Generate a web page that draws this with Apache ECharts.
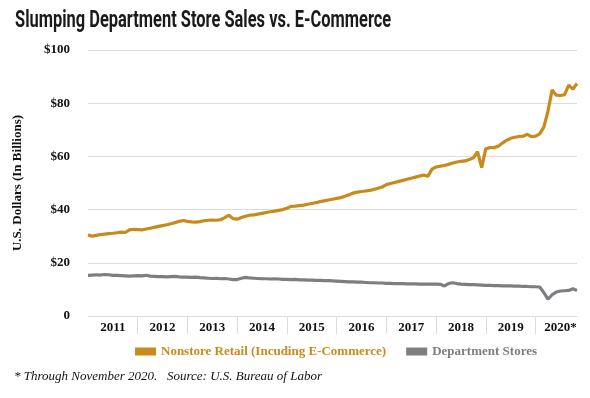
<!DOCTYPE html>
<html>
<head>
<meta charset="utf-8">
<script src="https://cdn.jsdelivr.net/npm/echarts@6/dist/echarts.min.js"></script>
<style>
  html, body { margin: 0; padding: 0; background: #fff; }
  #chart { width: 590px; height: 398px; }
</style>
</head>
<body>
<div id="chart"></div>
<script>
// years on the x axis (monthly data Jan 2011 - Nov 2020)
const years = ['2011', '2012', '2013', '2014', '2015', '2016', '2017', '2018', '2019', '2020']
const yearLabels = ['2011', '2012', '2013', '2014', '2015', '2016', '2017', '2018', '2019', '2020*']
const monthsLastYear = 11

// Nonstore retail, $ billions, one row per year
const nonstore = [
  30.5, 30.0, 30.3, 30.6, 30.8, 31.0, 31.1, 31.3, 31.5, 31.4, 32.4, 32.6,
  32.5, 32.4, 32.7, 33.0, 33.3, 33.7, 34.0, 34.3, 34.7, 35.1, 35.6, 35.9,
  35.6, 35.4, 35.3, 35.5, 35.8, 36.0, 36.1, 36.0, 36.2, 37.0, 37.9, 36.6,
  36.4, 37.0, 37.5, 37.9, 38.0, 38.3, 38.6, 38.9, 39.2, 39.4, 39.7, 40.0,
  40.5, 41.2, 41.3, 41.5, 41.7, 42.0, 42.3, 42.6, 43.0, 43.3, 43.6, 43.9,
  44.2, 44.5, 45.0, 45.6, 46.2, 46.6, 46.8, 47.0, 47.2, 47.6, 48.0, 48.5,
  49.4, 49.8, 50.2, 50.6, 51.0, 51.4, 51.8, 52.2, 52.6, 53.0, 52.5, 55.2,
  56.0, 56.3, 56.6, 57.0, 57.5, 57.9, 58.1, 58.3, 58.8, 59.5, 61.8, 55.8,
  62.9, 63.3, 63.3, 63.8, 65.0, 66.0, 66.8, 67.2, 67.5, 67.6, 68.3, 67.4,
  67.6, 68.5, 71.0, 77.0, 85.0, 83.0, 82.9, 83.2, 86.8, 85.3, 87.4
]

// Department stores, $ billions
const deptStores = [
  15.3, 15.4, 15.5, 15.4, 15.6, 15.5, 15.3, 15.3, 15.2, 15.1, 15.0, 15.1,
  15.2, 15.1, 15.3, 15.0, 14.9, 14.8, 14.8, 14.7, 14.8, 14.9, 14.7, 14.6,
  14.6, 14.5, 14.6, 14.4, 14.3, 14.2, 14.1, 14.2, 14.0, 14.1, 13.9, 13.7,
  13.7, 14.2, 14.5, 14.3, 14.2, 14.1, 14.0, 14.0, 13.9, 14.0, 13.9, 13.8,
  13.8, 13.7, 13.8, 13.6, 13.6, 13.5, 13.5, 13.4, 13.4, 13.3, 13.3, 13.2,
  13.1, 13.0, 12.9, 12.8, 12.8, 12.7, 12.7, 12.6, 12.5, 12.5, 12.4, 12.4,
  12.3, 12.3, 12.2, 12.2, 12.2, 12.1, 12.1, 12.1, 12.0, 12.0, 12.0, 12.0,
  12.0, 11.9, 11.3, 12.2, 12.5, 12.2, 12.0, 11.9, 11.8, 11.8, 11.7, 11.6,
  11.5, 11.5, 11.4, 11.4, 11.3, 11.3, 11.3, 11.2, 11.2, 11.1, 11.1, 11.0,
  11.0, 10.9, 8.8, 6.3, 8.0, 9.0, 9.4, 9.5, 9.6, 10.2, 9.6
]

const yTicks = [0, 20, 40, 60, 80, 100]

const months = []
years.forEach((y, i) => {
  const n = i === years.length - 1 ? monthsLastYear : 12
  for (let m = 1; m <= n; m++) months.push(y + '-' + m)
})

const orange = '#c98a1c'
const grey = '#7e7e82'
const serif = '"Liberation Serif", "DejaVu Serif", serif'

const chart = echarts.init(document.getElementById('chart'))
chart.setOption({
  animation: false,
  backgroundColor: '#fff',
  grid: { left: 88, right: 13, top: 50, bottom: 82 },
  legend: {
    left: 130,
    top: 340,
    icon: 'rect',
    itemWidth: 21,
    itemHeight: 8,
    itemGap: 20,
    textStyle: { fontFamily: serif, fontWeight: 'bold', fontSize: 13 },
    data: [
      { name: 'Nonstore Retail (Incuding E-Commerce)', textStyle: { color: orange } },
      { name: 'Department Stores', textStyle: { color: grey } }
    ]
  },
  xAxis: {
    type: 'category',
    data: months,
    boundaryGap: false,
    axisLine: { lineStyle: { color: '#dcdcdc' } },
    axisTick: {
      show: true,
      length: 18,
      interval: i => i % 12 === 0 && i > 0,
      lineStyle: { color: '#dcdcdc' }
    },
    axisLabel: {
      interval: i => i % 12 === 6,
      margin: 5,
      fontFamily: serif,
      fontWeight: 'bold',
      fontSize: 13,
      color: '#111',
      formatter: v => yearLabels[years.indexOf(v.split('-')[0])]
    }
  },
  yAxis: {
    type: 'value',
    min: yTicks[0],
    max: yTicks[yTicks.length - 1],
    interval: 20,
    name: 'U.S. Dollars (In Billions)',
    nameLocation: 'middle',
    nameGap: 64,
    nameTextStyle: { fontFamily: serif, fontWeight: 'bold', fontSize: 13, color: '#111' },
    axisLine: { show: false },
    axisTick: { show: false },
    splitLine: { lineStyle: { color: '#dcdcdc' } },
    axisLabel: {
      margin: 18,
      fontFamily: serif,
      fontWeight: 'bold',
      fontSize: 13,
      color: '#111',
      formatter: v => (v === 0 ? '0' : '$' + v)
    }
  },
  series: [
    {
      name: 'Nonstore Retail (Incuding E-Commerce)',
      type: 'line',
      data: nonstore,
      showSymbol: false,
      symbol: 'none',
      color: orange,
      lineStyle: { width: 3.2, color: orange }
    },
    {
      name: 'Department Stores',
      type: 'line',
      data: deptStores,
      showSymbol: false,
      symbol: 'none',
      color: grey,
      lineStyle: { width: 3.2, color: grey }
    }
  ],
  graphic: [
    {
      type: 'text',
      x: 15,
      y: 10,
      scaleX: 0.715,
      style: {
        text: 'Slumping Department Store Sales vs. E-Commerce',
        fontFamily: 'Roboto, "DejaVu Sans", sans-serif',
        fontWeight: 'bold',
        fontSize: 23,
        fill: '#1a1a1a',
        verticalAlign: 'top'
      }
    },
    {
      type: 'text',
      x: 14,
      y: 370,
      style: {
        text: '* Through November 2020.   Source: U.S. Bureau of Labor',
        fontFamily: serif,
        fontStyle: 'italic',
        fontSize: 13,
        fill: '#111',
        verticalAlign: 'top'
      }
    }
  ]
})
</script>
</body>
</html>
